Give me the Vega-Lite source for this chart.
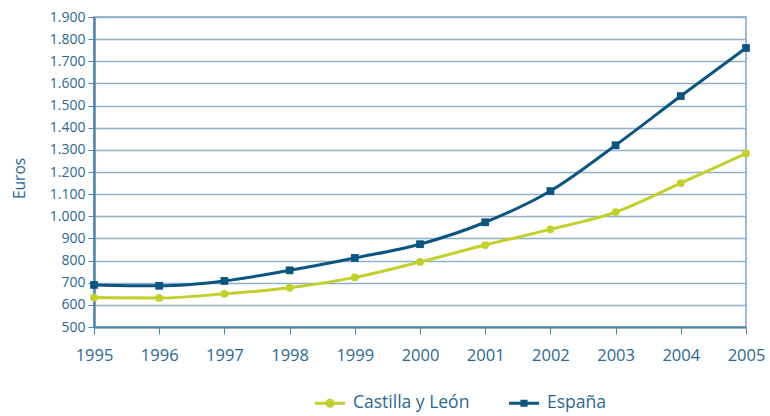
{
  "$schema": "https://vega.github.io/schema/vega-lite/v6.json",
  "width": 652,
  "height": 310,
  "autosize": {"type": "none"},
  "padding": {"left": 94, "top": 17, "right": 24, "bottom": 89},
  "background": "white",
  "config": {
    "font": "Open Sans",
    "view": {"stroke": "#7fa6c4", "strokeWidth": 1.5},
    "axis": {
      "labelColor": "#2a6892",
      "titleColor": "#2a6892",
      "domainColor": "#4f86ad",
      "tickColor": "#4f86ad",
      "gridColor": "#8fb1ca",
      "labelFont": "Open Sans",
      "titleFont": "Open Sans"
    }
  },
  "data": {
    "values": [
      {"year": 1995, "serie": "Castilla y León", "euros": 633},
      {"year": 1996, "serie": "Castilla y León", "euros": 631},
      {"year": 1997, "serie": "Castilla y León", "euros": 650},
      {"year": 1998, "serie": "Castilla y León", "euros": 677},
      {"year": 1999, "serie": "Castilla y León", "euros": 724},
      {"year": 2000, "serie": "Castilla y León", "euros": 794},
      {"year": 2001, "serie": "Castilla y León", "euros": 870},
      {"year": 2002, "serie": "Castilla y León", "euros": 941},
      {"year": 2003, "serie": "Castilla y León", "euros": 1019},
      {"year": 2004, "serie": "Castilla y León", "euros": 1150},
      {"year": 2005, "serie": "Castilla y León", "euros": 1284},
      {"year": 1995, "serie": "España", "euros": 690},
      {"year": 1996, "serie": "España", "euros": 686},
      {"year": 1997, "serie": "España", "euros": 708},
      {"year": 1998, "serie": "España", "euros": 756},
      {"year": 1999, "serie": "España", "euros": 812},
      {"year": 2000, "serie": "España", "euros": 874},
      {"year": 2001, "serie": "España", "euros": 973},
      {"year": 2002, "serie": "España", "euros": 1114},
      {"year": 2003, "serie": "España", "euros": 1321},
      {"year": 2004, "serie": "España", "euros": 1543},
      {"year": 2005, "serie": "España", "euros": 1760}
    ]
  },
  "encoding": {
    "x": {
      "field": "year",
      "type": "quantitative",
      "scale": {"domain": [1995, 2005], "nice": false, "zero": false},
      "axis": {
        "title": null,
        "values": [1995, 1996, 1997, 1998, 1999, 2000, 2001, 2002, 2003, 2004, 2005],
        "format": "d",
        "grid": false,
        "labelFontSize": 16.5,
        "labelPadding": 13,
        "tickSize": 7,
        "domainWidth": 2,
        "labelFlush": false
      }
    },
    "y": {
      "field": "euros",
      "type": "quantitative",
      "scale": {"domain": [500, 1900], "nice": false, "zero": false},
      "axis": {
        "title": "Euros",
        "titleFontSize": 15.5,
        "titleFontWeight": "normal",
        "titlePadding": 22,
        "titleY": 161,
        "values": [500, 600, 700, 800, 900, 1000, 1100, 1200, 1300, 1400, 1500, 1600, 1700, 1800, 1900],
        "labelExpr": "replace(format(datum.value, ','), ',', '.')",
        "labelFontSize": 14,
        "labelPadding": 3,
        "tickSize": 6,
        "domainWidth": 2.5,
        "gridWidth": 1.5
      }
    },
    "color": {
      "field": "serie",
      "type": "nominal",
      "scale": {"domain": ["Castilla y León", "España"], "range": ["#c3cf2a", "#0b5580"]},
      "legend": {
        "title": null,
        "orient": "none",
        "legendX": 221,
        "legendY": 371,
        "direction": "horizontal",
        "labelFontSize": 17.5,
        "labelColor": "#2a6892",
        "labelFont": "Open Sans",
        "symbolSize": 900,
        "columnPadding": 39,
        "labelOffset": 8,
        "encode": {
          "symbols": {
            "update": {
              "shape": {"signal": "datum.value == 'España' ? 'M-1,-0.1H1V0.1H-1Z M-0.24,-0.24H0.24V0.24H-0.24Z' : 'M-1,-0.1H1V0.1H-1Z M-0.3,0A0.3,0.3 0 1,1 0.3,0A0.3,0.3 0 1,1 -0.3,0Z'"},
              "fill": {"signal": "datum.value == 'España' ? '#0b5580' : '#c3cf2a'"},
              "fillOpacity": {"value": 1},
              "strokeWidth": {"value": 0}
            }
          }
        }
      }
    }
  },
  "layer": [
    {"mark": {"type": "line", "interpolate": "monotone", "strokeWidth": 3}},
    {
      "transform": [{"filter": "datum.serie == 'Castilla y León'"}],
      "mark": {"type": "point", "shape": "circle", "filled": true, "opacity": 1, "size": 60}
    },
    {
      "transform": [{"filter": "datum.serie == 'España'"}],
      "mark": {"type": "point", "shape": "square", "filled": true, "opacity": 1, "size": 60}
    }
  ]
}
